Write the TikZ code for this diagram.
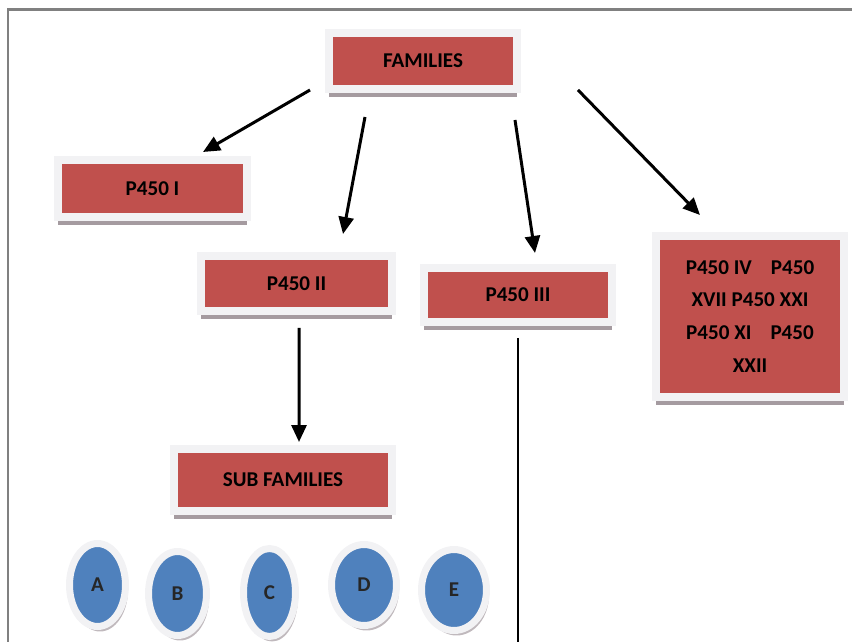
\documentclass[tikz,border=0pt]{standalone}
\usepackage{fontspec}
\setmainfont{Carlito}
\usetikzlibrary{arrows.meta, shapes.geometric, shadows}
\definecolor{boxred}{RGB}{192,80,77}
\definecolor{ballblue}{RGB}{79,129,189}
\definecolor{rimgray}{RGB}{242,242,244}
\definecolor{shadegray}{RGB}{165,155,160}

\begin{document}
\begin{tikzpicture}[x = 0.02cm, y = -0.02cm,
		famBox/.style = {rectangle, fill = boxred, draw = rimgray, line width = 0.16cm,
			inner sep = 0pt, outer sep = 0pt,
			general shadow = {fill = shadegray, shadow yshift = -0.16cm},
			font = \fontsize{12}{18.7}\selectfont\bfseries, text = black, align = center},
		ball/.style = {ellipse, fill = ballblue, draw = rimgray, line width = 0.14cm,
			inner sep = 0pt, outer sep = 0pt,
			general shadow = {fill = shadegray!70, shadow yshift = -0.1cm, shadow xshift = 0.05cm},
			font = \fontsize{12}{14}\selectfont\bfseries, text = black!85},
		arr/.style = {-{Triangle[length = 0.34cm, width = 0.3cm]}, line width = 0.06cm}]
		\useasboundingbox (0, 0) rectangle (852, 642);
		\draw [line width = 0.06cm, gray] (852, 10) -- (8, 10) -- (8, 642);
		%%%%%%%%%%%%%
		\node [famBox, minimum width = 3.76cm, minimum height = 1.12cm] (fam) at (423, 61) {FAMILIES};
		\node [famBox, minimum width = 3.78cm, minimum height = 1.14cm] (p1) at (152.5, 188.5) {P450 I};
		\node [famBox, minimum width = 3.82cm, minimum height = 1.10cm] (p2) at (296.5, 283.5) {P450 II};
		\node [famBox, minimum width = 3.76cm, minimum height = 1.08cm] (p3) at (518, 295) {P450 III};
		\node [famBox, minimum width = 3.76cm, minimum height = 3.22cm] (rest) at (750, 316.5)
			{P450 IV\hspace{0.9em}P450\\ XVII P450 XXI\\ P450 XI\hspace{0.9em}P450\\ XXII};
		\node [famBox, minimum width = 4.36cm, minimum height = 1.24cm] (sub) at (283, 480) {SUB FAMILIES};
		%%%%%%%%%%%%%
		\node [ball, minimum width = 1.12cm, minimum height = 1.66cm] (sa) at (97.5, 585) {A};
		\node [ball, minimum width = 1.16cm, minimum height = 1.68cm] (sb) at (177.5, 593.5) {B};
		\node [ball, minimum width = 1.04cm, minimum height = 1.76cm] (sc) at (269.5, 592.5) {C};
		\node [ball, minimum width = 1.30cm, minimum height = 1.62cm] (sd) at (364, 585) {D};
		\node [ball, minimum width = 1.30cm, minimum height = 1.62cm] (se) at (454, 590) {E};
		\coordinate (bot) at (518, 642);
		%%%%%%%%%%%%%
		\draw [arr] ([shift = {(-19, 1)}]fam.south west) to ([shift = {(50.5, -8)}]p1.north);
		\draw [arr] ([shift = {(-58, 28)}]fam.south) to ([shift = {(46.5, -22)}]p2.north);
		\draw [arr] ([shift = {(92, 31)}]fam.south) to ([shift = {(17, -15)}]p3.north);
		\draw [arr] ([shift = {(61, 1)}]fam.south east) to ([shift = {(-50, -21)}]rest.north);
		\draw [arr] ([shift = {(2.5, 17)}]p2.south) to ([shift = {(16, -7)}]sub.north);
		\draw [line width = 0.045cm] ([shift = {(0, 16)}]p3.south) to (bot);
\end{tikzpicture}
\end{document}
